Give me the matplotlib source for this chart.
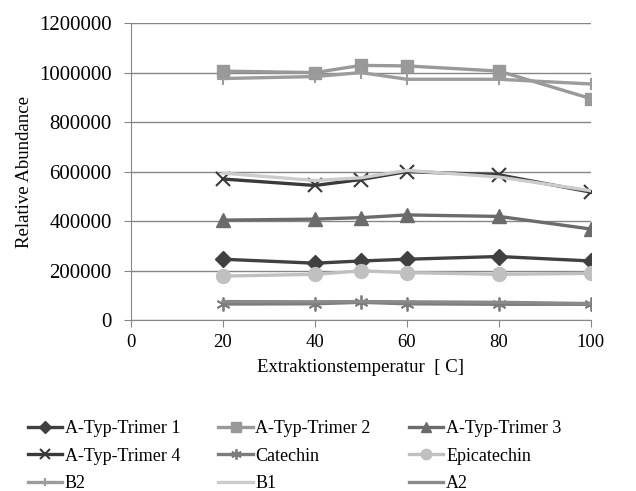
import matplotlib.pyplot as plt
from matplotlib.ticker import FuncFormatter

plt.rcParams["font.family"] = ["Liberation Serif", "DejaVu Serif"]

temps = [20, 40, 50, 60, 80, 100]

trimer1 = [246000, 230000, 239000, 246000, 257000, 239000]
trimer2 = [1006000, 1000000, 1029000, 1027000, 1006000, 895000]
trimer3 = [404000, 408000, 414000, 425000, 419000, 368000]
trimer4 = [570000, 544000, 568000, 600000, 587000, 517000]
catechin = [65000, 66000, 72000, 66000, 64000, 64000]
epicatechin = [178000, 185000, 199000, 192000, 185000, 189000]
b2 = [976000, 984000, 1000000, 973000, 973000, 954000]
b1 = [594000, 564000, 575000, 605000, 578000, 523000]
a2 = [75000, 74000, 75000, 74000, 72000, 67000]

series = [
    ("A-Typ-Trimer 1", trimer1, "#404040", "D", 8),
    ("A-Typ-Trimer 2", trimer2, "#999999", "s", 9),
    ("A-Typ-Trimer 3", trimer3, "#6b6b6b", "^", 10),
    ("A-Typ-Trimer 4", trimer4, "#3a3a3a", "x", 10),
    ("Catechin", catechin, "#7c7c7c", "*", 10),
    ("Epicatechin", epicatechin, "#c0c0c0", "o", 10),
    ("B2", b2, "#9c9c9c", "+", 8),
    ("B1", b1, "#cccccc", None, 0),
    ("A2", a2, "#8a8a8a", None, 0),
]

fig = plt.figure(figsize=(6.36, 4.91), dpi=100)
ax = fig.add_axes([0.206, 0.348, 0.723, 0.605])

lines = []
for name, vals, col, mk, ms in series:
    if mk == "*":
        ln, = ax.plot(temps, vals, color=col, lw=2.4, marker=(6, 2, 0), ms=ms,
                      mew=1.3, mec=col, label=name)
    elif mk in ("x", "+"):
        ln, = ax.plot(temps, vals, color=col, lw=2.4, marker=mk, ms=ms,
                      mew=1.5, mec=col, label=name)
    elif mk:
        ln, = ax.plot(temps, vals, color=col, lw=2.4, marker=mk, ms=ms,
                      mec=col, mfc=col, label=name)
    else:
        ln, = ax.plot(temps, vals, color=col, lw=2.4, label=name)
    lines.append(ln)

ax.set_xlim(0, 100)
ax.set_ylim(0, 1200000)
ax.set_xticks(range(0, 101, 20))
ax.set_yticks(range(0, 1200001, 200000))
ax.yaxis.set_major_formatter(FuncFormatter(lambda v, p: f"{int(v)}"))
ax.yaxis.grid(True, color="#868686", lw=1)
ax.set_axisbelow(True)
for s in ["top", "right"]:
    ax.spines[s].set_visible(False)
for s in ["left", "bottom"]:
    ax.spines[s].set_color("#868686")
ax.tick_params(colors="#868686", labelcolor="black", labelsize=13.5, length=5)
ax.tick_params(axis="y", labelsize=15, pad=9)
ax.tick_params(axis="x", pad=5)
ax.set_xlabel("Extraktionstemperatur  [ C]", fontsize=13.5, labelpad=6)
ax.set_ylabel("Relative Abundance", fontsize=13.5, labelpad=4)

# legend is filled row by row in the reference
order = [0, 3, 6, 1, 4, 7, 2, 5, 8]
fig.legend([lines[i] for i in order], [series[i][0] for i in order],
           loc="lower left", bbox_to_anchor=(0.032, -0.017), ncol=3,
           frameon=False, fontsize=13, numpoints=1, markerscale=0.75,
           handlelength=1.9, handletextpad=0.15,
           columnspacing=2.12, labelspacing=0.58, borderaxespad=0)

fig.savefig("out.png", dpi=100)
